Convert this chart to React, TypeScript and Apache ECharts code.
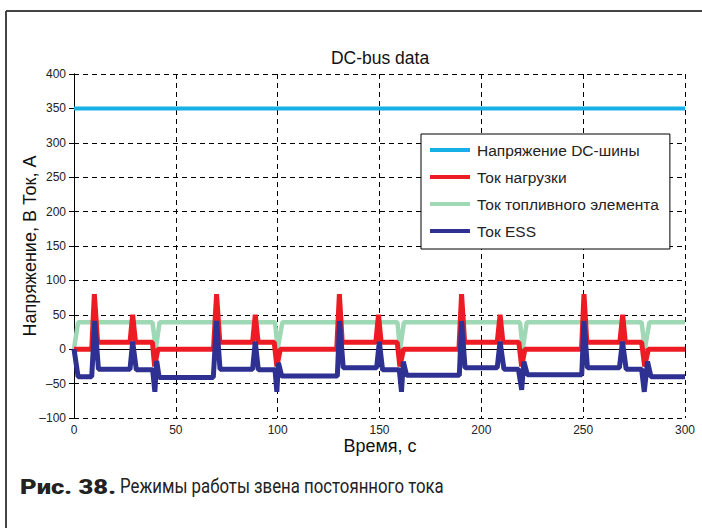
import React, { useEffect, useRef } from "react";
import * as echarts from "echarts";

// Time axis (s) and value axis (V / A)
const TIME_MIN = 0;
const TIME_MAX = 300;
const TIME_STEP = 50;
const VALUE_MIN = -100;
const VALUE_MAX = 400;
const VALUE_STEP = 50;

const SERIES_NAMES = [
  "Напряжение DC-шины",
  "Ток нагрузки",
  "Ток топливного элемента",
  "Ток ESS",
];

// DC-bus voltage, V
const busVoltage: [number, number][] = [
  [0, 350],
  [300, 350],
];

// Load current, A
const loadCurrent: [number, number][] = [
  [0, 0], [8.7, 0], [10, 80], [11.6, 10], [27.5, 10], [28.8, 50], [30.2, 10], [38.5, 10], [39.6, -25], [41.2, 0],
  [68.5, 0], [70, 80], [71.6, 10], [87.7, 10], [89, 50], [90.4, 10], [98.3, 10], [99.6, -25], [101.3, 0],
  [129, 0], [130.3, 80], [131.7, 10], [148.2, 10], [149.5, 50], [150.8, 10], [158.7, 10], [160, -25], [161.8, 0],
  [189, 0], [190.3, 80], [191.8, 10], [207.8, 10], [209.2, 50], [210.6, 10], [218.4, 10], [219.8, -25], [221.4, 0],
  [249.2, 0], [250.4, 80], [251.8, 10], [268, 10], [269.4, 50], [270.7, 10], [278.7, 10], [280.2, -25], [282, 0],
  [300, 0],
];

// Fuel cell current, A
const fuelCellCurrent: [number, number][] = [
  [0, 0], [2, 39], [38.5, 39], [40.2, 1], [42, 39],
  [98.7, 39], [100, 0], [102.3, 39],
  [158.8, 39], [160.1, 0], [162, 39],
  [219, 39], [220.3, 0], [222.3, 39],
  [278.7, 39], [280.3, 0], [282.5, 39],
  [300, 39],
];

// Energy storage system current, A
const essCurrent: [number, number][] = [
  [0, 0], [2, -40], [8.7, -40], [10.2, 41], [12, -29], [27.5, -29], [28.8, 11], [30.6, -30], [38.6, -30], [39.7, -62], [40.6, -17], [41.8, -41],
  [68.4, -41], [70, 41], [71.7, -29], [87.7, -29], [89, 11], [90.5, -30], [98.7, -30], [99.6, -62], [100.4, -20], [102, -39],
  [129.3, -39], [130.4, 41], [132.2, -27], [148.6, -27], [149.9, 11], [151.5, -30], [159.7, -30], [160.8, -62], [161.7, -18], [163.3, -38],
  [189.2, -38], [190.3, 41], [192, -27], [207.8, -27], [209.2, 11], [211.1, -29], [218.2, -29], [219.8, -59], [220.9, -18], [222.6, -37],
  [249.3, -37], [250.4, 41], [252.1, -27], [267.8, -27], [269.3, 11], [271.1, -29], [278.7, -29], [280, -62], [281.6, -18], [283.3, -40],
  [300, -40],
];

const COLORS = ["#17b0e6", "#ed1c24", "#9ed8b5", "#2e3192"];
const FONT = '"Liberation Sans", Arial, sans-serif';
const CAPTION_FONT = 'Roboto, "Noto Sans", sans-serif';

export default function App() {
  const ref = useRef<HTMLDivElement>(null);

  useEffect(() => {
    document.body.style.margin = "0";
    if (!ref.current) return;
    const chart = echarts.init(ref.current, undefined, { renderer: "svg" });

    const axisLine = { show: true, lineStyle: { color: "#000", width: 1 } };
    const tick = { show: true, inside: true, length: 5, lineStyle: { color: "#000" } };
    const split = {
      show: true,
      lineStyle: { color: "#000", width: 1, type: [5, 4] as number[] },
    };
    const label = {
      color: "#222",
      fontSize: 12,
      fontFamily: FONT,
      formatter: (v: number) => String(v).replace("-", "\u2013"),
    };

    const seriesData = [busVoltage, loadCurrent, fuelCellCurrent, essCurrent];
    const widths = [4, 5, 4.5, 5];
    const zs = [2, 4, 3, 5];

    chart.setOption({
      animation: false,
      textStyle: { fontFamily: FONT },
      grid: { left: 74, top: 74, right: 17, bottom: 110 },
      legend: {
        orient: "vertical",
        left: 421,
        top: 134,
        data: SERIES_NAMES,
        icon: "rect",
        itemWidth: 40,
        itemHeight: 4,
        itemGap: 11,
        padding: [8, 11, 10, 9],
        backgroundColor: "#fff",
        borderColor: "#000",
        borderWidth: 1,
        borderRadius: 0,
        textStyle: { fontSize: 15.5, color: "#222", fontFamily: FONT, padding: [0, 0, 0, 2] },
      },
      xAxis: [
        {
          type: "value",
          min: TIME_MIN,
          max: TIME_MAX,
          interval: TIME_STEP,
          axisLine,
          axisTick: tick,
          axisLabel: { ...label, margin: 6 },
          splitLine: split,
        },
        {
          type: "value",
          position: "top",
          min: TIME_MIN,
          max: TIME_MAX,
          interval: TIME_STEP,
          axisLine,
          axisTick: tick,
          axisLabel: { show: false },
          splitLine: { show: false },
        },
      ],
      yAxis: [
        {
          type: "value",
          min: VALUE_MIN,
          max: VALUE_MAX,
          interval: VALUE_STEP,
          axisLine,
          axisTick: tick,
          axisLabel: { ...label, margin: 8 },
          splitLine: split,
        },
        {
          type: "value",
          position: "right",
          min: VALUE_MIN,
          max: VALUE_MAX,
          interval: VALUE_STEP,
          axisLine,
          axisTick: tick,
          axisLabel: { show: false },
          splitLine: { show: false },
        },
      ],
      series: SERIES_NAMES.map((name, i) => ({
        name,
        type: "line",
        data: seriesData[i],
        xAxisIndex: 0,
        yAxisIndex: 0,
        showSymbol: false,
        symbol: "none",
        z: zs[i],
        color: COLORS[i],
        lineStyle: { color: COLORS[i], width: widths[i] },
      })),
      graphic: [
        {
          type: "line",
          shape: { x1: 6, y1: 11, x2: 702, y2: 11 },
          style: { stroke: "#444", lineWidth: 2 },
        },
        {
          type: "line",
          shape: { x1: 6, y1: 11, x2: 6, y2: 528 },
          style: { stroke: "#444", lineWidth: 2 },
        },
        {
          type: "text",
          x: 380,
          y: 58,
          style: {
            text: "DC-bus data",
            fontSize: 17.5,
            fill: "#111",
            fontFamily: FONT,
            align: "center",
            verticalAlign: "middle",
          },
        },
        // axis titles
        {
          type: "text",
          x: 380,
          y: 437,
          style: {
            text: "Время, с",
            fontSize: 18,
            fill: "#111",
            fontFamily: FONT,
            align: "center",
            verticalAlign: "top",
          },
        },
        {
          type: "text",
          x: 30,
          y: 246,
          rotation: Math.PI / 2,
          style: {
            text: "Напряжение, В Ток, А",
            fontSize: 18,
            fill: "#111",
            fontFamily: FONT,
            align: "center",
            verticalAlign: "middle",
          },
        },
        // figure caption
        {
          type: "text",
          x: 20,
          y: 487,
          scaleX: 1.28,
          style: {
            text: "Рис. 38.",
            fontSize: 20,
            fontWeight: 900,
            fill: "#222",
            fontFamily: CAPTION_FONT,
            verticalAlign: "middle",
          },
        },
        {
          type: "text",
          x: 120,
          y: 487,
          scaleX: 0.84,
          style: {
            text: "Режимы работы звена постоянного тока",
            fontSize: 20,
            fill: "#222",
            fontFamily: CAPTION_FONT,
            verticalAlign: "middle",
          },
        },
      ],
    });

    return () => chart.dispose();
  }, []);

  return <div ref={ref} style={{ width: 702, height: 528 }} />;
}
